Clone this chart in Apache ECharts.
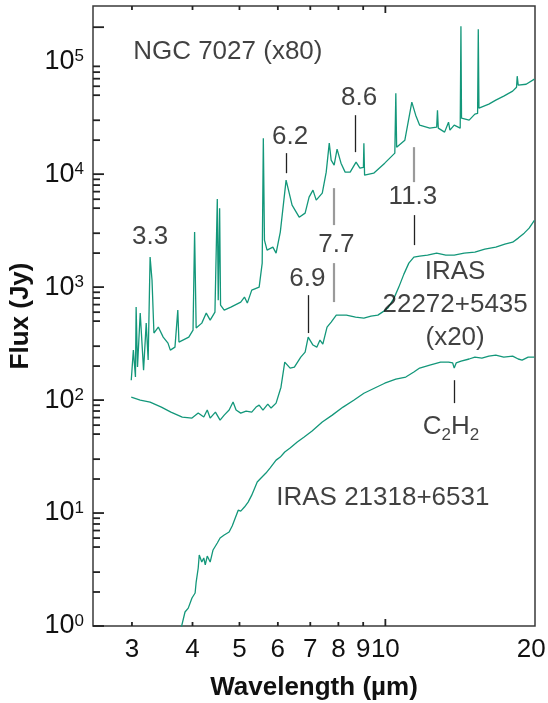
<!DOCTYPE html>
<html>
<head>
<meta charset="utf-8">
<script src="https://cdn.jsdelivr.net/npm/echarts@6.0.0/dist/echarts.min.js"></script>
<style>
  html, body { margin: 0; padding: 0; background: #fff; }
  #chart { width: 548px; height: 703px; }
</style>
</head>
<body>
<div id="chart"></div>
<script>
// spectra: [wavelength (µm), flux (Jy)]
const ngc7027 = [
  [2.99,150],[3.02,277],[3.05,160],[3.06,665],[3.08,196],[3.12,589],[3.17,184],[3.21,480],
  [3.24,226],[3.27,1843],[3.30,1150],[3.33,392],[3.40,443],[3.48,361],[3.56,319],[3.60,277],
  [3.68,294],[3.71,300],[3.73,626],[3.75,326],[3.93,361],[4.01,416],[4.04,3069],[4.07,434],
  [4.18,480],[4.27,589],[4.35,510],[4.45,601],[4.49,601],[4.50,6010],[4.52,767],[4.55,5002],
  [4.57,693],[4.65,626],[4.80,665],[5.03,737],[5.12,816],[5.19,722],[5.30,940],[5.49,1000],
  [5.57,1631],[5.60,20830],[5.63,2606],[5.70,2125],[5.86,2260],[5.95,2000],[6.07,3069],
  [6.24,8850],[6.42,5320],[6.64,4160],[6.83,4520],[6.96,6260],[7.09,7220],[7.20,5890],
  [7.41,6790],[7.55,10420],[7.66,18800],[7.73,13300],[7.84,12020],[7.95,16640],[8.10,12510],
  [8.26,10420],[8.46,10420],[8.70,12770],[8.86,11300],[9.01,11500],[9.03,18800],[9.06,9800],
  [9.46,10200],[9.97,12510],[10.46,15350],[10.51,52100],[10.55,17340],[10.97,20000],
  [11.34,43370],[11.55,33270],[11.77,27150],[12.35,25530],[12.76,26060],[12.81,36850],
  [12.86,25530],[13.25,23550],[13.50,28840],[13.59,24500],[13.87,27150],[14.27,25530],
  [14.32,204000],[14.36,31320],[14.89,30060],[15.30,33960],[15.50,34500],[15.55,192000],
  [15.60,38370],[16.35,41630],[16.90,45170],[17.55,49000],[18.31,54290],[18.65,58880],
  [18.71,73650],[18.80,61350],[19.52,62520],[20.30,69330]
];
const iras22272 = [
  [2.99,106],[3.12,100],[3.27,96],[3.45,86.7],[3.61,78.3],[3.81,70.7],[3.99,69.3],[4.11,76.7],
  [4.22,70.7],[4.29,81.6],[4.35,69.3],[4.46,78.3],[4.56,66.5],[4.65,73.6],[4.76,81.6],[4.85,96],
  [4.92,81.6],[5.03,76.7],[5.16,80],[5.30,78.3],[5.41,86.7],[5.49,90.3],[5.59,81.6],[5.72,92.2],
  [5.81,85],[5.95,94],[6.09,130],[6.20,217],[6.36,192],[6.49,196],[6.69,240],[6.83,266],
  [6.93,361],[7.09,307],[7.22,294],[7.33,340],[7.43,313],[7.58,443],[7.73,490],[7.92,565],
  [8.31,565],[8.68,543],[9.03,532],[9.34,554],[9.65,565],[9.93,613],[10.12,652],[10.42,799],
  [10.66,1000],[10.92,1303],[11.18,1631],[11.45,1843],[11.77,1881],[12.22,1920],[12.76,2000],
  [13.33,1920],[13.87,1920],[14.54,2000],[15.30,2041],[16.04,2170],[16.90,2260],[17.64,2403],
  [18.31,2500],[18.80,2715],[19.34,3005],[19.80,3327],[20.30,3900]
];
const iras21318 = [
  [3.79,0.96],[3.86,1.33],[3.92,1.44],[3.99,1.77],[4.05,1.96],[4.07,2.45],[4.11,3.26],[4.13,4.25],
  [4.18,3.68],[4.22,4.0],[4.25,3.47],[4.29,4.16],[4.35,3.68],[4.41,4.71],[4.50,5.43],[4.56,6.01],
  [4.65,6.39],[4.76,6.79],[4.83,7.67],[4.87,7.85],[4.97,10.6],[5.03,10.4],[5.12,11.3],[5.21,12.5],
  [5.30,14.4],[5.44,18.8],[5.54,20.4],[5.67,22.6],[5.78,25.0],[5.95,29.4],[6.07,31.3],[6.20,34.7],
  [6.36,37.6],[6.58,42.5],[6.80,47.1],[7.06,53.2],[7.41,63.9],[7.77,73.6],[8.18,86.7],[8.62,100],
  [9.03,115],[9.51,128],[9.97,141],[10.51,153],[11.02,160],[11.45,177],[11.77,192],[12.35,204],
  [13.00,217],[13.50,217],[13.77,213],[13.87,192],[14.00,213],[14.33,221],[14.89,231],[15.30,240],
  [15.82,235],[16.35,245],[16.90,250],[17.55,240],[18.31,245],[18.80,231],[19.15,226],[19.71,240],
  [20.30,240]
];

// feature markers: [wavelength, flux low, flux high]
const blackMarks = [[6.24,10200,15350],[8.65,15660,33270],[11.45,2354,4340],[6.93,392,849],[13.87,94,150]];
const grayMarks = [[7.84,3540,7520],[7.84,737,1631],[11.45,8500,17340]];

// axes
const xRange = [2.493, 20.36];
const yRange = [1, 3.08e5];
const xTickLabels = [3, 4, 5, 6, 7, 8, 9, 10, 20];
const xMinorTicks = [3, 4, 5, 6, 7, 8, 9];
const xMajorTicks = [10];
const yLabelExps = [0, 1, 2, 3, 4, 5];
const yMajorTicks = [1, 10, 100, 1000, 10000, 200000];
const yMinorMant = [2, 3, 5, 6, 7, 8, 9];

const lg = Math.log10;
const font = 'Liberation Sans, Arial, sans-serif';
const teal = '#13977a';
const ink = '#111';
const tickColor = '#222';

const yMinorTicks = [];
[0, 1, 2, 3, 4].forEach(d => yMinorMant.forEach(m => yMinorTicks.push(m * Math.pow(10, d))));

const toLog = arr => arr.map(p => [lg(p[0]), lg(p[1])]);

// text annotations (data coords)
const notes = [
  {text: 'NGC 7027 (x80)', wl: 3.01, flux: 120000, left: true},
  {text: '3.3', wl: 3.27, flux: 2770},
  {text: '6.2', wl: 6.36, flux: 21250},
  {text: '8.6', wl: 8.83, flux: 47070},
  {text: '11.3', wl: 11.40, flux: 6260},
  {text: '7.7', wl: 7.92, flux: 2354},
  {text: '6.9', wl: 6.90, flux: 1177},
  {text: 'IRAS\n22272+5435\n(x20)', wl: 13.93, flux: 693},
  {text: '{n|C}{sub|2}{n|H}{sub|2}', wl: 13.66, flux: 57.7},
  {text: 'IRAS 21318+6531', wl: 5.94, flux: 13.6, left: true}
];

const chart = echarts.init(document.getElementById('chart'));

// inward ticks on bottom + top edges, placed through the x scale
function xTicks(values, len) {
  return {
    type: 'custom', silent: true, z: 10, clip: false,
    data: values.map(v => [lg(v), 1]),
    renderItem: (params, api) => {
      const x = api.coord([api.value(0), 1])[0];
      const top = params.coordSys.y, bot = params.coordSys.y + params.coordSys.height;
      const st = {stroke: tickColor, lineWidth: 1.8};
      return {type: 'group', children: [
        {type: 'line', shape: {x1: x, y1: bot, x2: x, y2: bot - len}, style: st},
        {type: 'line', shape: {x1: x, y1: top, x2: x, y2: top + len}, style: st}
      ]};
    }
  };
}
// inward ticks on the left edge, placed through the y scale
function yTicks(values, len) {
  return {
    type: 'custom', silent: true, z: 10, clip: false,
    data: values.map(v => [lg(3), lg(v)]),
    renderItem: (params, api) => {
      const y = api.coord([api.value(0), api.value(1)])[1];
      const left = params.coordSys.x;
      return {type: 'line', shape: {x1: left, y1: y, x2: left + len, y2: y},
        style: {stroke: tickColor, lineWidth: 1.8}};
    }
  };
}

const markSeg = m => [{coord: [lg(m[0]), lg(m[1])]}, {coord: [lg(m[0]), lg(m[2])]}];

chart.setOption({
  animation: false,
  grid: {left: 93, right: 13, top: 6, bottom: 77, show: true, borderColor: '#3a3a3a', borderWidth: 1.5,
    outerBoundsMode: 'none'},
  xAxis: {
    type: 'value', min: lg(xRange[0]), max: lg(xRange[1]), position: 'bottom',
    axisLine: {show: false, onZero: false}, splitLine: {show: false}, axisTick: {show: false},
    name: 'Wavelength (µm)', nameLocation: 'middle', nameGap: 49,
    nameTextStyle: {fontSize: 26, fontWeight: 'bold', fontFamily: font, color: ink},
    axisLabel: {customValues: xTickLabels.map(lg), margin: 11, fontSize: 26, fontFamily: font, color: ink,
      formatter: v => String(Math.round(Math.pow(10, v)))}
  },
  yAxis: {
    type: 'value', min: lg(yRange[0]), max: lg(yRange[1]), position: 'left',
    axisLine: {show: false, onZero: false}, splitLine: {show: false}, axisTick: {show: false},
    name: 'Flux (Jy)', nameLocation: 'middle', nameGap: 57,
    nameTextStyle: {fontSize: 26, fontWeight: 'bold', fontFamily: font, color: ink},
    axisLabel: {customValues: yLabelExps, margin: 9, color: ink,
      formatter: v => '{b|10}{s|' + Math.round(v) + '}',
      rich: {
        b: {fontSize: 27, fontFamily: font, color: ink},
        s: {fontSize: 17, fontFamily: font, color: ink, verticalAlign: 'top'}
      }}
  },
  series: [
    xTicks(xMinorTicks, 4),
    xTicks(xMajorTicks, 7),
    yTicks(yMajorTicks, 11),
    yTicks(yMinorTicks, 7),
    {name: 'NGC 7027', type: 'line', data: toLog(ngc7027), showSymbol: false, symbol: 'none',
      lineStyle: {color: teal, width: 1.3}},
    {name: 'IRAS 22272+5435', type: 'line', data: toLog(iras22272), showSymbol: false, symbol: 'none',
      lineStyle: {color: teal, width: 1.3}},
    {name: 'IRAS 21318+6531', type: 'line', data: toLog(iras21318), showSymbol: false, symbol: 'none',
      lineStyle: {color: teal, width: 1.3}},
    {
      name: 'notes', type: 'scatter', symbolSize: 1, itemStyle: {color: 'rgba(0,0,0,0)'}, z: 5,
      data: notes.map(n => ({
        value: [lg(n.wl), lg(n.flux)],
        label: {
          show: true, position: n.left ? 'right' : 'inside', distance: 0,
          align: n.left ? 'left' : 'center',
          formatter: () => n.text,
          fontSize: 26, lineHeight: 33, fontFamily: font, color: ink,
          rich: {
            n: {fontSize: 26, fontFamily: font, color: ink},
            sub: {fontSize: 17, fontFamily: font, color: ink, verticalAlign: 'bottom'}
          }
        }
      })),
      markLine: {silent: true, symbol: ['none', 'none'], label: {show: false},
        lineStyle: {color: '#222', width: 1.3, type: 'solid'},
        data: blackMarks.map(markSeg)}
    },
    {
      name: 'gray marks', type: 'scatter', data: [], z: 5,
      markLine: {silent: true, symbol: ['none', 'none'], label: {show: false},
        lineStyle: {color: '#9a9a9a', width: 2.2, type: 'solid'},
        data: grayMarks.map(markSeg)}
    }
  ]
});
</script>
</body>
</html>
